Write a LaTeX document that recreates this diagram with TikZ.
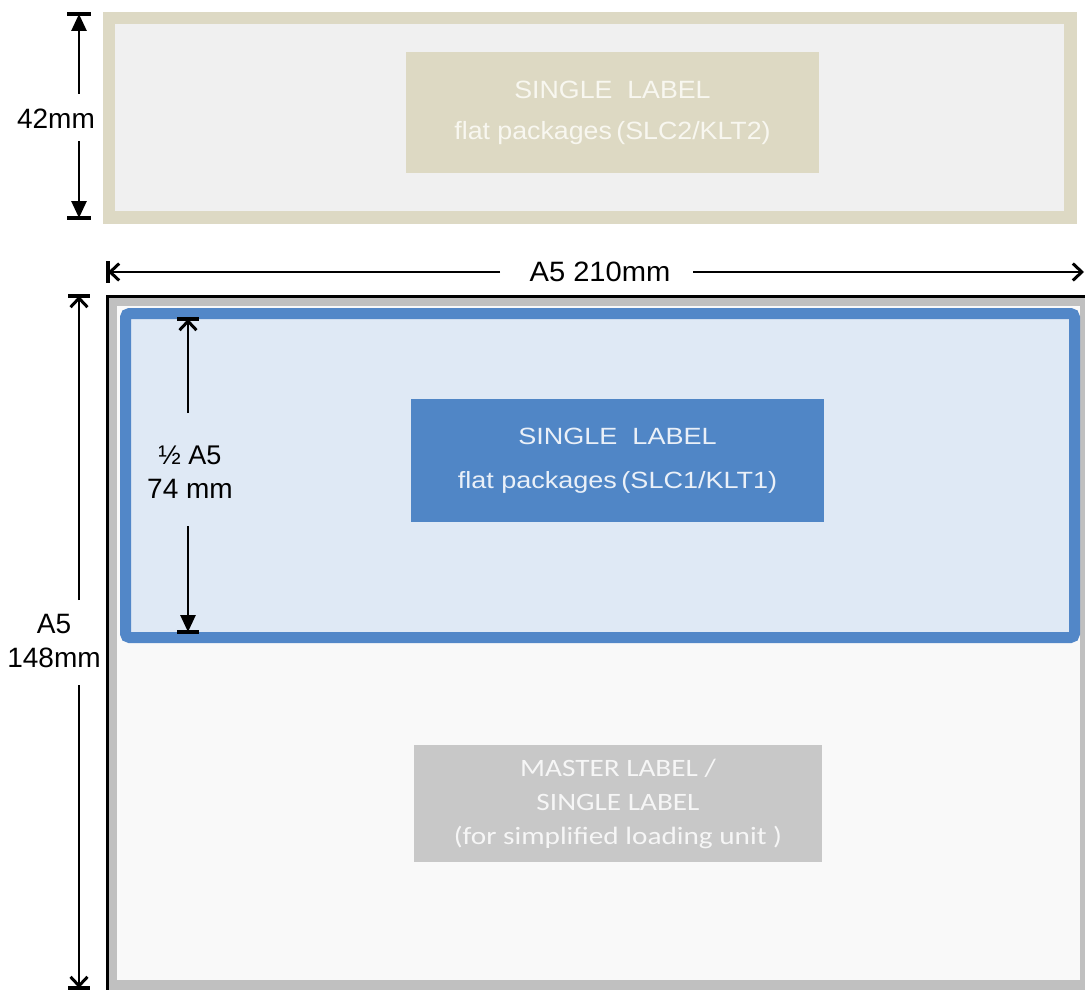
\documentclass[tikz,border=0pt]{standalone}
\usepackage{fontspec}
\setmainfont{Liberation Sans}
\newfontfamily\calfont{Carlito}
\usetikzlibrary{arrows.meta}
\definecolor{beigeborder}{HTML}{DDD9C4}
\definecolor{beigein}{HTML}{F0F0F0}
\definecolor{beigebox}{HTML}{DDD9C3}
\definecolor{beigetext}{HTML}{F8F7F0}
\definecolor{greyborder}{HTML}{C0C0C0}
\definecolor{greyin}{HTML}{F9F9F9}
\definecolor{blueborder}{HTML}{5287C8}
\definecolor{bluein}{HTML}{DFE9F5}
\definecolor{bluebox}{HTML}{5086C6}
\definecolor{bluetext}{HTML}{EAF0F8}
\definecolor{greybox}{HTML}{C8C8C8}
\definecolor{greytext}{HTML}{F6F6F6}
\tikzset{
  dimlabel/.style={font=\fontsize{28}{34}\selectfont, align=center, text=black, inner sep=0pt},
  dimline/.style={line width=2.8pt, draw=black},
  dimbar/.style={line width=3.2pt, draw=black},
  tri/.style={dimline, -{Triangle[length=17pt,width=15pt]}},
  barb/.style={dimline, -{Straight Barb[length=9pt,width=17pt,line width=3pt]}},
}
\begin{document}
\begin{tikzpicture}[x=1pt,y=-1pt]
\useasboundingbox (0,0) rectangle (1085,990);
\fill[white] (0,0) rectangle (1085,990);

% ---- top beige label area (42mm) ----
\fill[beigeborder] (103,12) rectangle (1077,224);
\fill[beigein] (115,24) rectangle (1064,211);
\node[fill=beigebox, minimum width=413pt, minimum height=121pt, inner sep=0pt,
      text=beigetext, align=center, font=\fontsize{25}{41}\selectfont]
  (slc2) at (612.5,112.5) {\scalebox{1.07}[1]{SINGLE\ \ LABEL}\\\scalebox{1.07}[1]{flat packages\,(SLC2/KLT2)}};

% 42mm dimension
\coordinate (d42top) at (79,14);
\coordinate (d42bot) at (79,218);
\draw[dimbar] (67,14) -- (91,14);
\draw[dimbar] (67,218) -- (91,218);
\node[dimlabel] (l42) at (56,119) {42mm};
\coordinate (d42a) at (79,94);
\coordinate (d42b) at (79,141);
\draw[tri] (d42a) -- (d42top);
\draw[tri] (d42b) -- (d42bot);

% ---- A5 210mm dimension ----
\node[dimlabel] (l210) at (600,272) {\scalebox{1.04}[1]{A5 210mm}};
\coordinate (w1) at (500,272);
\coordinate (w2) at (693,272);
\coordinate (wl) at (108,272);
\coordinate (wr) at (1084,272);
\draw[dimbar] (108,261) -- (108,283);
\draw[barb] (w1) -- (wl);
\draw[barb] (w2) -- (wr);

% ---- A5 area ----
\fill[greyborder] (106,295) rectangle (1085,990);
\fill[greyin] (117,306) rectangle (1080,980);
\draw[line width=2.8pt, black] (107.4,990) -- (107.4,296.4) -- (1085,296.4);

% blue half A5
\draw[line width=11pt, draw=blueborder, fill=bluein, rounded corners=4pt]
  (125.5,313.5) rectangle (1074.5,637.5);
\node[fill=bluebox, minimum width=413pt, minimum height=123pt, inner sep=0pt,
      text=bluetext, align=center, font=\fontsize{23.5}{44}\selectfont]
  (slc1) at (617.5,460.5) {\scalebox{1.15}[1]{SINGLE\ \ LABEL}\\\scalebox{1.15}[1]{flat packages\,(SLC1/KLT1)}};

% grey master label
\node[fill=greybox, minimum width=408pt, minimum height=117pt, inner sep=0pt,
      text=greytext, align=center, font=\calfont\fontsize{25}{34}\selectfont]
  (master) at (618,803.5) {\scalebox{1.17}[1]{MASTER LABEL /}\\\scalebox{1.17}[1]{SINGLE LABEL}\\\scalebox{1.17}[1]{(for simplified loading unit )}};

% 1/2 A5 74 mm dimension
\draw[dimbar] (177,319) -- (199,319);
\draw[dimbar] (177,632) -- (199,632);
\coordinate (h1top) at (188,319);
\coordinate (h1bot) at (188,632);
\node[dimlabel] (lhalf) at (190,472) {\fontsize{27}{36}\selectfont ½ A5\\74 mm};
\coordinate (h1a) at (188,413);
\coordinate (h1b) at (188,526);
\draw[barb] (h1a) -- (h1top);
\draw[tri] (h1b) -- (h1bot);

% A5 148mm dimension
\draw[dimbar] (68,296) -- (90,296);
\draw[dimbar] (68,988) -- (90,988);
\coordinate (h2top) at (79,296);
\coordinate (h2bot) at (79,988);
\node[dimlabel] (l148) at (54,641) {A5\\148mm};
\coordinate (h2a) at (79,600);
\coordinate (h2b) at (79,685);
\draw[barb] (h2a) -- (h2top);
\draw[barb] (h2b) -- (h2bot);
\end{tikzpicture}
\end{document}
